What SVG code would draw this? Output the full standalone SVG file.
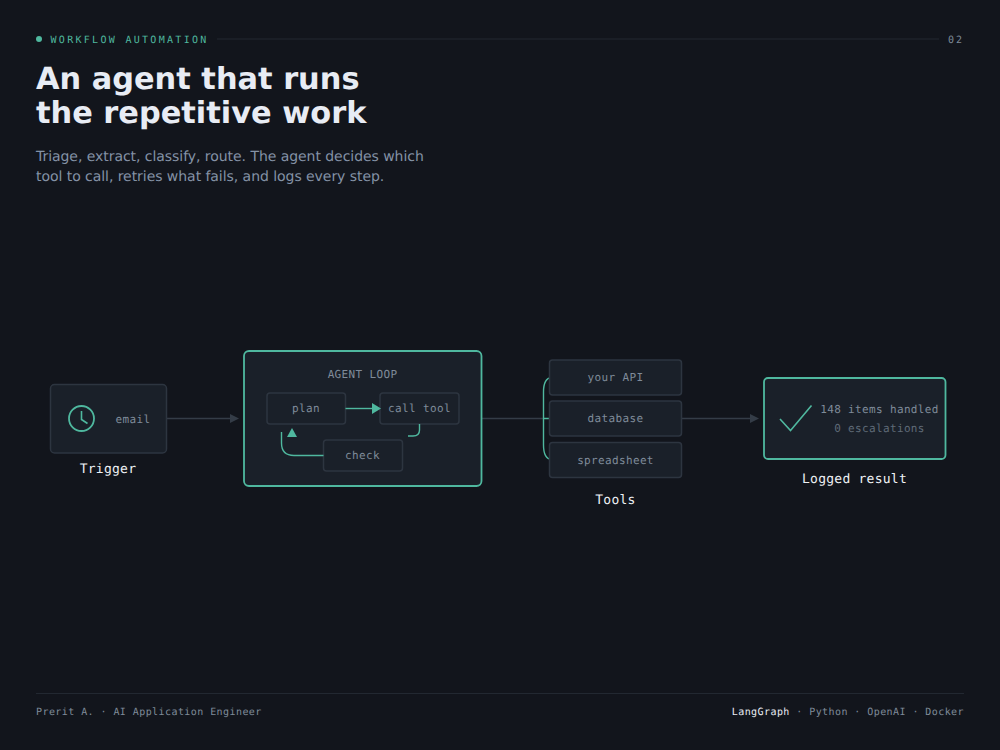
<svg xmlns="http://www.w3.org/2000/svg" width="1000" height="750" viewBox="0 0 1000 750" text-rendering="geometricPrecision">
<defs>
<style>
.m{font-family:"DejaVu Sans Mono",monospace}
.s{font-family:"DejaVu Sans",sans-serif}
.box{fill:#1a2029;stroke:#2d3540;stroke-width:1.5}
.in{fill:none;stroke:#2d3540;stroke-width:1.5}
.acc{fill:#1a2029;stroke:#4fb89f;stroke-width:1.8}
.t{font-size:11px;letter-spacing:.35px;fill:#7f8b99;text-anchor:middle}
.lab{font-size:13px;letter-spacing:.25px;fill:#eef1f5;text-anchor:middle}
.g{fill:none;stroke:#4fb89f;stroke-width:1.4}
.c{fill:none;stroke:#343c47;stroke-width:1.3}
.f{font-size:10px;letter-spacing:.43px;fill:#7f8b99}
</style>
</defs>
<rect width="1000" height="750" fill="#12151c"/>
<g opacity=".999">
<g id="header">
<circle cx="39" cy="39" r="3" fill="#4fb89f"/>
<text class="m" x="50.500" y="43" font-size="10px" letter-spacing="2.300" fill="#4fb89f">WORKFLOW AUTOMATION</text>
<line x1="217" y1="39" x2="939" y2="39" stroke="#222831" stroke-width="1"/>
<text class="m" x="948" y="43" font-size="10px" letter-spacing="2" fill="#7f8b99">02</text>
<text class="s" x="36" y="89" font-size="30.400px" font-weight="700" fill="#e8ecf4">An agent that runs</text>
<text class="s" x="36" y="123" font-size="30.400px" font-weight="700" fill="#e8ecf4">the repetitive work</text>
<text class="s" x="36" y="161" font-size="14px" letter-spacing="-.05" fill="#8492a6">Triage, extract, classify, route. The agent decides which</text>
<text class="s" x="36" y="181" font-size="14px" letter-spacing="-.05" fill="#8492a6">tool to call, retries what fails, and logs every step.</text>
</g>
<g id="connectors">
<line class="c" x1="167" y1="418.500" x2="231" y2="418.500"/>
<polygon points="230,414 239,418.500 230,423" fill="#343c47"/>
<line class="c" x1="482" y1="418.500" x2="544" y2="418.500"/>
<line class="c" x1="682" y1="418.500" x2="750" y2="418.500"/>
<polygon points="750,414 759,418.500 750,423" fill="#343c47"/>
<path class="g" d="M551.500 377.500C546 378 543.500 384 543.500 392V445C543.500 453 546 459 551.500 459.500M543.500 418.500H550"/>
</g>
<g id="trigger">
<rect class="box" x="50.500" y="384.500" width="116" height="68.500" rx="4"/>
<circle cx="81.500" cy="418.500" r="12.500" fill="none" stroke="#4fb89f" stroke-width="1.800"/>
<path d="M81.500 411V419.500L87.500 423.500" fill="none" stroke="#4fb89f" stroke-width="1.600"/>
<text class="m t" x="133" y="423">email</text>
<text class="m lab" x="108" y="473">Trigger</text>
</g>
<g id="agent-loop">
<rect class="acc" x="244" y="351" width="237.500" height="135" rx="5"/>
<text class="m t" x="362.500" y="378">AGENT LOOP</text>
<g id="plan"><rect class="in" x="267" y="393" width="78.500" height="31" rx="3"/><text class="m t" x="306" y="412">plan</text></g>
<g id="call-tool"><rect class="in" x="380" y="393" width="79" height="31" rx="3"/><text class="m t" x="419.500" y="412">call tool</text></g>
<g id="check"><rect class="in" x="323.500" y="440" width="79" height="31" rx="3"/><text class="m t" x="362.500" y="459">check</text></g>
<line class="g" x1="345.500" y1="408.500" x2="373" y2="408.500"/>
<polygon points="372,403 381,408.500 372,414" fill="#4fb89f"/>
<path class="g" d="M419.500 424V430Q419.500 436 413 436H408"/>
<path class="g" d="M323.500 455.500H294Q281.500 455.500 281.500 443V432"/>
<polygon points="287,437 292,428 297,437" fill="#4fb89f"/>
</g>
<g id="tools">
<g id="your-api"><rect class="box" x="549.500" y="360" width="132" height="35" rx="3"/><text class="m t" x="615.500" y="381">your API</text></g>
<g id="database"><rect class="box" x="549.500" y="401" width="132" height="35" rx="3"/><text class="m t" x="615.500" y="422">database</text></g>
<g id="spreadsheet"><rect class="box" x="549.500" y="442.500" width="132" height="35" rx="3"/><text class="m t" x="615.500" y="464">spreadsheet</text></g>
<text class="m lab" x="615.500" y="504">Tools</text>
</g>
<g id="logged-result">
<rect class="acc" x="764" y="378" width="181.500" height="81" rx="4"/>
<path d="M780 419L790.500 430.500L811.500 405.500" fill="none" stroke="#4fb89f" stroke-width="1.600"/>
<text class="m t" x="879.500" y="413">148 items handled</text>
<text class="m" x="879.500" y="432" font-size="11px" letter-spacing=".35" fill="#5f6a77" text-anchor="middle">0 escalations</text>
<text class="m lab" x="854.500" y="483">Logged result</text>
</g>
<g id="footer">
<line x1="36" y1="693.500" x2="964" y2="693.500" stroke="#222831" stroke-width="1"/>
<text class="m f" x="36" y="715">Prerit A. · AI Application Engineer</text>
<text class="m f" x="964" y="715" text-anchor="end"><tspan fill="#e8ecf4">LangGraph</tspan> · Python · OpenAI · Docker</text>
</g>
</g>
</svg>
